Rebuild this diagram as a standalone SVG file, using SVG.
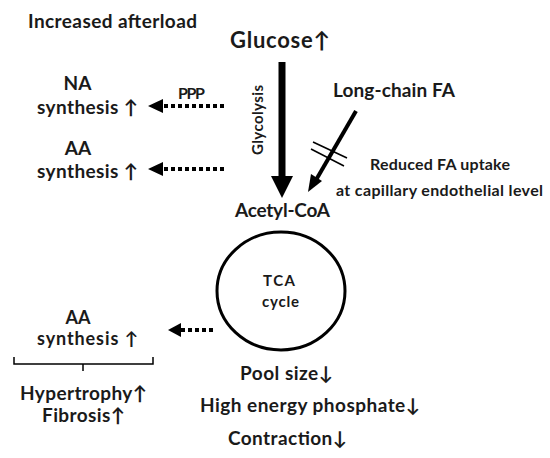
<svg xmlns="http://www.w3.org/2000/svg" width="550" height="458" viewBox="0 0 550 458">
<style>
text{font-family:Lato,"Liberation Sans",sans-serif;font-weight:bold;fill:#1a1a1a}
.m{font-size:19px}
.s{font-size:16px}
.c{text-anchor:middle}
.dot{stroke:#000;stroke-width:4;stroke-dasharray:4 3;fill:none}
</style>
<rect width="550" height="458" fill="#fff"/>
<g id="afterload"><text class="m" x="28" y="28" textLength="169">Increased afterload</text></g>
<g id="glucose"><text x="230" y="48" style="font-size:22px" textLength="100">Glucose↑</text></g>
<g id="lcfa"><text class="m" x="333" y="97" textLength="122">Long-chain FA</text></g>
<g id="reduced"><text class="s" x="370" y="170" textLength="140">Reduced FA uptake</text><text class="s" x="336" y="196" textLength="207">at capillary endothelial level</text></g>
<g id="acetyl"><text class="m" x="235" y="217" textLength="95">Acetyl-CoA</text></g>
<g id="tca"><ellipse cx="281" cy="291" rx="64" ry="59" fill="none" stroke="#000" stroke-width="3"/><text x="263" y="286" style="font-size:15px" textLength="32">TCA</text><text x="262" y="307" style="font-size:15px" textLength="37">cycle</text></g>
<g id="na"><text class="m c" x="77.5" y="90">NA</text><text class="m" x="37" y="114" textLength="101">synthesis ↑</text></g>
<g id="aa1"><text class="m c" x="78" y="155">AA</text><text class="m" x="37" y="178" textLength="101">synthesis ↑</text></g>
<g id="aa2"><text class="c" x="78" y="324" style="font-size:18px">AA</text><text x="37" y="345" style="font-size:18px" textLength="101">synthesis ↑</text></g>
<g id="outcome"><text class="m" x="20" y="400" textLength="127">Hypertrophy↑</text><text class="m" x="42" y="422" textLength="83">Fibrosis↑</text></g>
<g id="pool"><text class="m" x="240" y="380" textLength="93">Pool size↓</text><text class="m" x="200" y="412" textLength="220">High energy phosphate↓</text><text class="m" x="228" y="445" textLength="119">Contraction↓</text></g>
<g id="connectors">
<line x1="282" y1="62" x2="282" y2="178" stroke="#000" stroke-width="7"/>
<path d="M271,176 L293,176 L282,198 z" fill="#000"/>
<text x="263" y="120" class="c" style="font-size:15px" textLength="70" transform="rotate(-90 263 120)">Glycolysis</text>
<line x1="356" y1="111" x2="316" y2="180" stroke="#000" stroke-width="4"/>
<path d="M308,192 L311,174 L322,181 z" fill="#000"/>
<line x1="313" y1="142" x2="347" y2="158" stroke="#000" stroke-width="1.5"/>
<line x1="311" y1="149" x2="344" y2="166" stroke="#000" stroke-width="1.5"/>
<line x1="224" y1="106" x2="162" y2="106" class="dot"/>
<path d="M148,106 L163,99 L163,113 z" fill="#000"/>
<text class="s" x="178" y="99" textLength="27">PPP</text>
<line x1="224" y1="169" x2="162" y2="169" class="dot"/>
<path d="M148,169 L163,162 L163,176 z" fill="#000"/>
<line x1="213" y1="330" x2="181" y2="330" class="dot"/>
<path d="M168,330 L181,323 L181,337 z" fill="#000"/>
<path d="M14,357 L14,364 L153,364 L153,357 M83,364 L83,371" fill="none" stroke="#000" stroke-width="1.5"/>
</g>
</svg>
